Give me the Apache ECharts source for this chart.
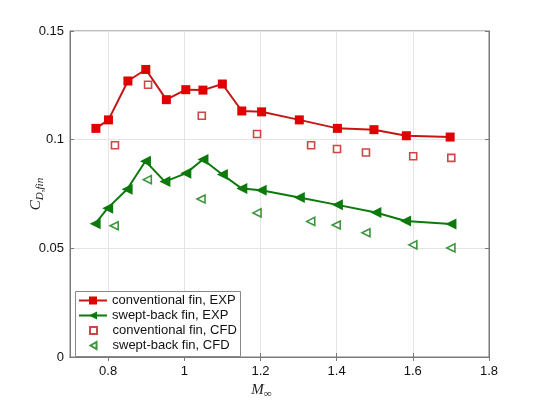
<!DOCTYPE html>
<html><head><meta charset="utf-8">
<script src="https://cdn.jsdelivr.net/npm/echarts@6/dist/echarts.min.js"></script>
<style>html,body{margin:0;padding:0;background:#fff}#c{width:540px;height:405px}</style>
</head><body><div id="c"></div>
<script>
var convExpX = [0.768, 0.801, 0.852, 0.899, 0.953, 1.004, 1.049, 1.100, 1.151, 1.203, 1.302, 1.402, 1.498, 1.583, 1.698];
var convExpY = [0.1052, 0.1091, 0.1270, 0.1323, 0.1184, 0.1230, 0.1228, 0.1256, 0.1132, 0.1128, 0.1091, 0.1052, 0.1046, 0.1018, 0.1012];
var sweptExpX = [0.766, 0.799, 0.850, 0.898, 0.949, 1.004, 1.049, 1.100, 1.151, 1.202, 1.302, 1.402, 1.503, 1.581, 1.700];
var sweptExpY = [0.0613, 0.0685, 0.0772, 0.0901, 0.0807, 0.0845, 0.0909, 0.0840, 0.0775, 0.0767, 0.0734, 0.0700, 0.0665, 0.0626, 0.0612];
var convCfdX = [0.818, 0.905, 1.046, 1.191, 1.333, 1.401, 1.477, 1.601, 1.701];
var convCfdY = [0.0974, 0.1253, 0.1110, 0.1026, 0.0974, 0.0957, 0.0941, 0.0924, 0.0916];
var sweptCfdX = [0.816, 0.903, 1.044, 1.191, 1.332, 1.399, 1.477, 1.600, 1.700];
var sweptCfdY = [0.0604, 0.0816, 0.0727, 0.0663, 0.0624, 0.0607, 0.0572, 0.0516, 0.0502];
var xTicks = [0.8, 1.0, 1.2, 1.4, 1.6, 1.8];
var yTicks = [0, 0.05, 0.1, 0.15];
var seriesNames = ['conventional fin, EXP', 'swept-back fin, EXP', 'conventional fin, CFD', 'swept-back fin, CFD'];

function pairs(xs, ys) { return xs.map(function (x, i) { return [x, ys[i]]; }); }

var RED = '#e00000', RED_D = '#c41616', GREEN = '#0b7a0b';
var axisCol = '#7a7a7a';
var legendText = { fontSize: 13, color: '#111', fontFamily: 'Liberation Sans, Arial, sans-serif' };
function tick() { return { show: true, inside: true, length: 4, customValues: xTicks, lineStyle: { color: axisCol } }; }

var chart = echarts.init(document.getElementById('c'));
chart.setOption({
  animation: false,
  backgroundColor: '#fff',
  textStyle: { fontFamily: 'Liberation Sans, Arial, sans-serif' },
  grid: { left: 70, right: 51, top: 31, bottom: 46, show: true, borderColor: axisCol, borderWidth: 1 },
  graphic: [{
    type: 'rect', left: 75, top: 291, z: 10,
    shape: { width: 165, height: 65 },
    style: { fill: '#fff', stroke: '#888', lineWidth: 1 }
  }],
  xAxis: [{
    type: 'value', min: 0.7, max: 1.8,
    axisLine: { show: true, lineStyle: { color: axisCol } },
    axisTick: tick(),
    axisLabel: { customValues: xTicks, color: '#111', fontSize: 13, margin: 8 },
    splitLine: { show: true, lineStyle: { color: '#e4e4e4', width: 1 } },
    name: '{m|M}{s|∞}', nameLocation: 'middle', nameGap: 24, nameMoveOverlap: false,
    nameTextStyle: { rich: {
      m: { fontFamily: 'Liberation Serif, serif', fontStyle: 'italic', fontSize: 15, color: '#222' },
      s: { fontFamily: 'Liberation Serif, serif', fontStyle: 'italic', fontSize: 11, color: '#222', verticalAlign: 'bottom', padding: [8, 36, 0, 0] }
    } }
  }, {
    type: 'value', position: 'top', min: 0.7, max: 1.8,
    axisLine: { show: true, lineStyle: { color: axisCol } },
    axisTick: tick(),
    axisLabel: { show: false }, splitLine: { show: false }
  }],
  yAxis: [{
    type: 'value', min: 0, max: 0.15, interval: 0.05,
    axisLine: { show: true, lineStyle: { color: axisCol } },
    axisTick: { show: true, inside: true, length: 4, lineStyle: { color: axisCol } },
    axisLabel: { color: '#111', fontSize: 13, margin: 6 },
    splitLine: { show: true, lineStyle: { color: '#e4e4e4', width: 1 } },
    name: '{c|C}{s|D,fin}', nameLocation: 'middle', nameRotate: 90, nameGap: 24, nameMoveOverlap: false,
    nameTextStyle: { rich: {
      c: { fontFamily: 'Liberation Serif, serif', fontStyle: 'italic', fontSize: 15, color: '#222' },
      s: { fontFamily: 'Liberation Serif, serif', fontStyle: 'italic', fontSize: 11, color: '#222', verticalAlign: 'bottom', padding: [8, 0, 0, 0] }
    } }
  }, {
    type: 'value', position: 'right', min: 0, max: 0.15, interval: 0.05,
    axisLine: { show: true, lineStyle: { color: axisCol } },
    axisTick: { show: true, inside: true, length: 4, lineStyle: { color: axisCol } },
    axisLabel: { show: false }, splitLine: { show: false }
  }],
  legend: [{
    orient: 'vertical', left: 74, top: 294, z: 11,
    padding: [0, 0, 0, 4], itemGap: 2, itemWidth: 28, itemHeight: 10,
    textStyle: legendText,
    data: [seriesNames[0], seriesNames[1]]
  }, {
    orient: 'vertical', left: 85, top: 324, z: 11,
    padding: [0, 0, 0, 4], itemGap: 2, itemWidth: 28, itemHeight: 7, symbolKeepAspect: true,
    textStyle: legendText,
    data: [
      { name: seriesNames[2], icon: 'path://M0,0h10v10h-10z' },
      { name: seriesNames[3], icon: 'path://M0,5L8.66,0L8.66,10z' }
    ]
  }],
  series: [{
    name: seriesNames[0], type: 'line', data: pairs(convExpX, convExpY),
    symbol: 'rect', symbolSize: 9, lineStyle: { color: RED_D, width: 2 },
    itemStyle: { color: RED }, z: 3
  }, {
    name: seriesNames[1], type: 'line', data: pairs(sweptExpX, sweptExpY),
    symbol: 'triangle', symbolRotate: 90, symbolSize: 11, lineStyle: { color: GREEN, width: 2 },
    itemStyle: { color: GREEN }, z: 3
  }, {
    name: seriesNames[2], type: 'scatter', data: pairs(convCfdX, convCfdY),
    symbol: 'rect', symbolSize: 7,
    itemStyle: { color: '#fff', borderColor: RED_D, borderWidth: 1.6 }
  }, {
    name: seriesNames[3], type: 'scatter', data: pairs(sweptCfdX, sweptCfdY),
    symbol: 'triangle', symbolRotate: 90, symbolSize: 8,
    itemStyle: { color: '#fff', borderColor: GREEN, borderWidth: 1.6 }
  }]
});
</script></body></html>
